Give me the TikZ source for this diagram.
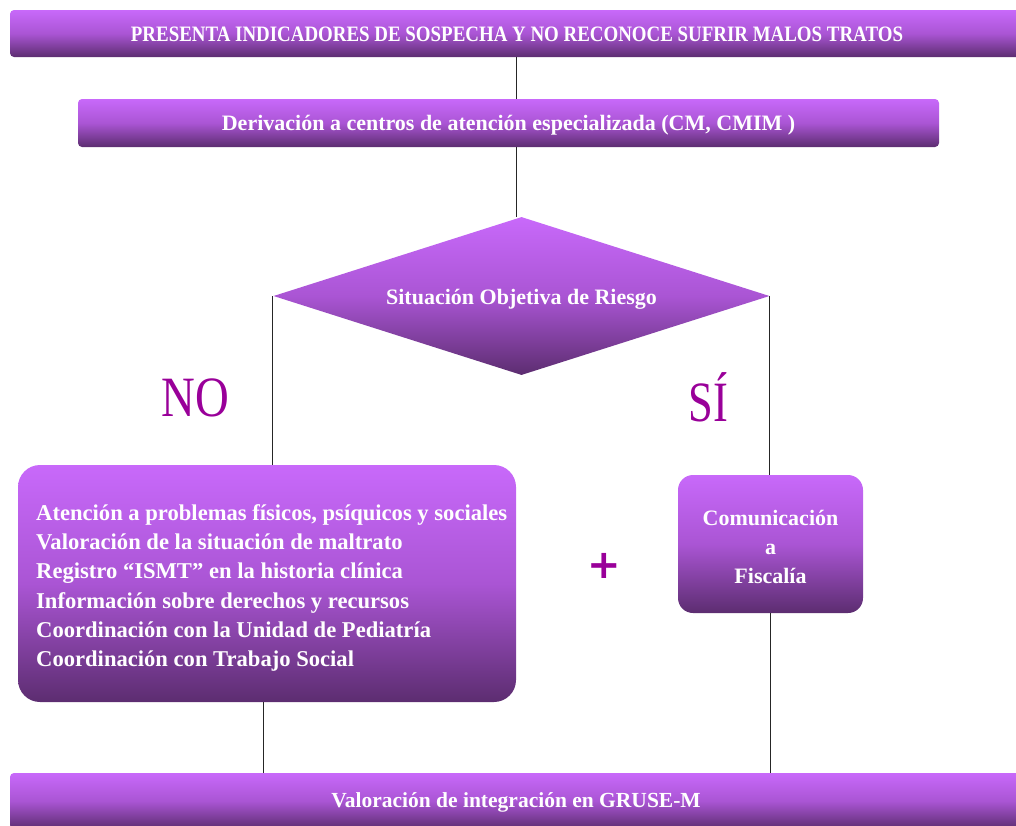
\documentclass[tikz,border=0pt]{standalone}
\usepackage{fontspec}
\setmainfont{Liberation Serif}
\newfontfamily\plusfont{DejaVu Sans}
\usetikzlibrary{shapes.geometric}
\definecolor{vtop}{RGB}{200,105,250}
\definecolor{vmid}{RGB}{170,85,212}
\definecolor{vbot}{RGB}{92,45,112}
\definecolor{lbl}{RGB}{153,0,153}
\tikzset{
  grad/.style={draw=none, top color=vtop, bottom color=vbot, middle color=vmid, shading=axis},
  bar/.style={grad, rounded corners=4pt, inner sep=0pt},
  wtext/.style={text=white, font=\fontsize{22}{29}\selectfont\bfseries, inner sep=0pt},
  conn/.style={draw=black!85, line width=0.8pt},
  yesno/.style={text=lbl, font=\fontsize{57}{60}\selectfont, inner sep=0pt}
}
\begin{document}
\begin{tikzpicture}[x=1pt,y=-1pt]
\useasboundingbox (0,0) rectangle (1016,825);
\clip (0,0) rectangle (1016,825);
% boxes
\node[bar, minimum width=1012pt, minimum height=47pt] (top) at (516,33.5) {};
\node[wtext] (toptext) at (517,34) {\scalebox{0.86}[1]{PRESENTA INDICADORES DE SOSPECHA Y NO RECONOCE SUFRIR MALOS TRATOS}};
\node[bar, minimum width=861pt, minimum height=48pt] (deriv) at (508.5,123) {};
\node[wtext] (derivtext) at (508.5,125) {Derivación a centros de atención especializada (CM, CMIM )};
\node[diamond, grad, minimum width=496pt, minimum height=158pt, inner sep=0pt, aspect=3.14] (dia) at (521.5,296) {};
\node[wtext] (diatext) at (521.5,299) {Situación Objetiva de Riesgo};
\node[grad, rounded corners=22pt, minimum width=498pt, minimum height=237pt, inner sep=0pt] (lbox) at (267,583.5) {};
\node[wtext, font=\fontsize{22.6}{29.2}\selectfont\bfseries, anchor=west, align=left] (lboxtext) at (36,588) {Atención a problemas físicos, psíquicos y sociales\\
Valoración de la situación de maltrato\\
Registro “ISMT” en la historia clínica\\
Información sobre derechos y recursos\\
Coordinación con la Unidad de Pediatría\\
Coordinación con Trabajo Social};
\node[grad, rounded corners=15pt, minimum width=185pt, minimum height=138pt, inner sep=0pt] (rbox) at (770.5,544) {};
\node[wtext, align=center] (rboxtext) at (770.5,547) {Comunicación\\a\\Fiscalía};
\node[bar, minimum width=1012pt, minimum height=56pt] (bot) at (516,801) {};
\node[wtext, font=\fontsize{21.5}{29}\selectfont\bfseries] (bottext) at (516,802) {Valoración de integración en GRUSE-M};
% labels
\node[yesno] (no) at (195.5,398) {\scalebox{0.82}[1]{NO}};
\node[yesno] (si) at (708.5,397) {\scalebox{0.78}[1]{SÍ}};
\node[text=lbl, font=\fontsize{40}{40}\selectfont\plusfont\bfseries, inner sep=0pt] (plus) at (604,566) {+};
% connectors
\draw[conn] (top.south) -- (top.south |- deriv.north);
\draw[conn] (top.south |- deriv.south) -- (top.south |- dia.north);
\draw[conn] ([xshift=-1pt]dia.west) -- ([xshift=-1pt]dia.west |- lbox.north);
\draw[conn] (dia.east) -- (dia.east |- rbox.north);
\draw[conn] ([xshift=-4pt]lbox.south) -- ([xshift=-4pt]lbox.south |- bot.north);
\draw[conn] (rbox.south) -- (rbox.south |- bot.north);
\end{tikzpicture}
\end{document}
